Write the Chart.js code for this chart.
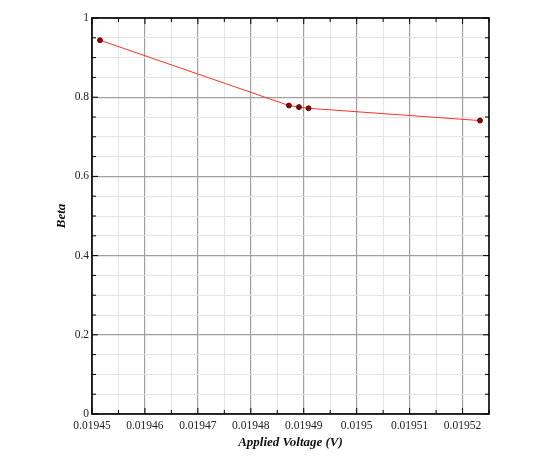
<!DOCTYPE html>
<html>
<head>
<meta charset="utf-8">
<script src="https://cdn.jsdelivr.net/npm/chart.js@4/dist/chart.umd.min.js"></script>
<style>
  html, body { margin:0; padding:0; background:#fff; }
  #wrap { width:551px; height:462px; }
</style>
</head>
<body>
<div id="wrap"><canvas id="c" width="551" height="462"></canvas></div>
<script>
// данные
const voltage = [0.0194515, 0.0194872, 0.0194891, 0.0194909, 0.0195233];
const beta    = [0.944, 0.779, 0.775, 0.772, 0.741];

const xMin = 0.01945, xMax = 0.019525, xStep = 0.000005;
const yMin = 0, yMax = 1, yStep = 0.05;

function isMajorX(v){ const k = v / 0.00001; return Math.abs(k - Math.round(k)) < 1e-6; }
function isMajorY(v){ const k = v / 0.2; return Math.abs(k - Math.round(k)) < 1e-6; }

// рамка + внутренние засечки
const framePlugin = {
  id:'frame',
  afterDraw(chart){
    const {ctx, chartArea:a, scales} = chart;
    ctx.save();
    ctx.strokeStyle = '#000';
    ctx.lineWidth = 1;
    scales.x.ticks.forEach(t => {
      const px = scales.x.getPixelForValue(t.value);
      const len = isMajorX(t.value) ? 6 : 4;
      ctx.beginPath();
      ctx.moveTo(px, a.bottom); ctx.lineTo(px, a.bottom - len);
      ctx.moveTo(px, a.top); ctx.lineTo(px, a.top + len);
      ctx.stroke();
    });
    scales.y.ticks.forEach(t => {
      const py = scales.y.getPixelForValue(t.value);
      const len = isMajorY(t.value) ? 6 : 4;
      ctx.beginPath();
      ctx.moveTo(a.left, py); ctx.lineTo(a.left + len, py);
      ctx.moveTo(a.right, py); ctx.lineTo(a.right - len, py);
      ctx.stroke();
    });
    ctx.lineWidth = 1.6;
    ctx.strokeRect(a.left, a.top, a.right - a.left, a.bottom - a.top);
    ctx.restore();
  }
};

new Chart(document.getElementById('c').getContext('2d'), {
  type:'scatter',
  data:{
    datasets:[{
      data: voltage.map((v,i) => ({x:v, y:beta[i]})),
      showLine:true,
      borderColor:'#ff3030',
      borderWidth:1,
      pointRadius:2.5,
      pointBackgroundColor:'#9b0000',
      pointBorderColor:'#3a0000',
      pointBorderWidth:0.8
    }]
  },
  options:{
    responsive:false,
    animation:false,
    layout:{ padding:{ left:0, right:62, top:18, bottom:0 } },
    plugins:{ legend:{display:false}, tooltip:{enabled:false} },
    scales:{
      x:{
        type:'linear',
        min:xMin, max:xMax,
        afterFit: s => { s.height = 48; },
        afterBuildTicks: s => {
          const arr = [];
          for (let i = 0; i <= Math.round((xMax - xMin)/xStep); i++) arr.push({value: xMin + i*xStep});
          s.ticks = arr;
        },
        ticks:{
          autoSkip:false, maxRotation:0, padding:5,
          color:'#222',
          font:{ family:'"Liberation Serif", "Times New Roman", serif', size:11.5 },
          callback: v => isMajorX(v) ? String(parseFloat(v.toFixed(5))) : ''
        },
        grid:{
          drawTicks:false,
          color: c => isMajorX(c.tick.value) ? '#a0a0a0' : '#e4e4e4',
          lineWidth: c => isMajorX(c.tick.value) ? 1.2 : 1
        },
        border:{ display:false },
        title:{
          display:true, text:'Applied Voltage (V)', color:'#111',
          padding:{ top:0, bottom:12 },
          font:{ family:'"Liberation Serif", "Times New Roman", serif', size:13, weight:'bold', style:'italic' }
        }
      },
      y:{
        type:'linear',
        min:yMin, max:yMax,
        afterFit: s => { s.width = 92; },
        afterBuildTicks: s => {
          const arr = [];
          for (let i = 0; i <= Math.round((yMax - yMin)/yStep); i++) arr.push({value: yMin + i*yStep});
          s.ticks = arr;
        },
        ticks:{
          autoSkip:false, padding:3,
          color:'#222',
          font:{ family:'"Liberation Serif", "Times New Roman", serif', size:11.5 },
          callback: v => isMajorY(v) ? String(parseFloat(v.toFixed(1))) : ''
        },
        grid:{
          drawTicks:false,
          color: c => isMajorY(c.tick.value) ? '#a0a0a0' : '#e4e4e4',
          lineWidth: c => isMajorY(c.tick.value) ? 1.2 : 1
        },
        border:{ display:false },
        title:{
          display:true, text:'Beta', color:'#111',
          padding:{ top:54, bottom:0 },
          font:{ family:'"Liberation Serif", "Times New Roman", serif', size:13, weight:'bold', style:'italic' }
        }
      }
    }
  },
  plugins:[framePlugin]
});
</script>
</body>
</html>
